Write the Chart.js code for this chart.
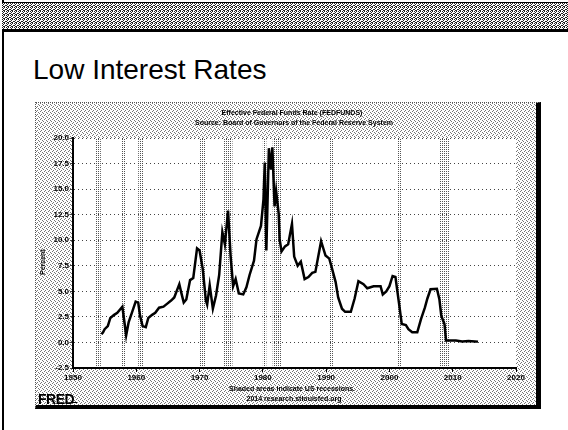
<!DOCTYPE html>
<html>
<head>
<meta charset="utf-8">
<script src="https://cdn.jsdelivr.net/npm/chart.js@4"></script>
<style>
    html, body { margin: 0; padding: 0; background: #fff; }
    #slide { position: relative; width: 568px; height: 430px; overflow: hidden; background: #fff; font-family: "Liberation Sans", Arial, sans-serif; }
    /* bordo sinistro e fascia retinata in alto */
    #bordoSx { position: absolute; left: 2px; top: 0; width: 2px; height: 430px; background: #000; }
    #fascia {
        position: absolute; left: 2px; top: 2px; width: 566px; height: 26px;
        background: #999;
        border-top: 1px solid #000; border-bottom: 3px solid #000;
    }
    #titolo { position: absolute; left: 33px; top: 56px; margin: 0; font-size: 28px; line-height: 28px; font-weight: normal; color: #000; }
    /* riquadro FRED */
    #fredBox {
        position: absolute; left: 35px; top: 102px; width: 506px; height: 307px; box-sizing: border-box;
        border-top: 1px dotted #555; border-left: 1px dotted #555;
        border-right: 5px solid #000; border-bottom: 4px solid #000;
    }
    #fredBox canvas { position: absolute; left: 0; top: 0; }
    .txt { position: absolute; font-weight: bold; color: #000; white-space: nowrap; transform: translate(-50%, -50%); }
    .piccolo { font-size: 7px; line-height: 8px; }
    #logo { position: absolute; left: 38px; top: 392px; font-size: 14px; line-height: 14px; font-weight: bold; letter-spacing: -0.5px; color: #000; }
    #icona { position: absolute; left: 72px; top: 398px; width: 4px; height: 4px; border-left: 1px solid #000; border-bottom: 1px solid #000; }
</style>
</head>
<body>
<div id="slide">
    <div id="bordoSx"></div>
    <div id="fascia"></div>
    <h1 id="titolo">Low Interest Rates</h1>
    <div id="fredBox"><canvas id="chartFed" width="500" height="302"></canvas></div>
    <div class="txt piccolo" style="left:292px; top:113px;">Effective Federal Funds Rate (FEDFUNDS)</div>
    <div class="txt piccolo" style="left:294px; top:123px;">Source: Board of Governors of the Federal Reserve System</div>
    <div class="txt piccolo" style="left:43px; top:262px; transform: translate(-50%, -50%) rotate(-90deg);">Percent</div>
    <div class="txt piccolo" style="left:292px; top:389px;">Shaded areas indicate US recessions.</div>
    <div class="txt piccolo" style="left:294px; top:399px;">2014 research.stlouisfed.org</div>
    <div id="logo">FRED</div>
    <div id="icona"></div>
</div>

<script>
/* ============================================
   DATI
   ============================================ */
// Anni (decimali) e tasso effettivo dei Fed Funds, in percentuale
const rateYears = [
    1954.50, 1954.75, 1955.00, 1955.50, 1955.90, 1956.50, 1957.00, 1957.80, 1958.10, 1958.40,
    1958.80, 1959.30, 1959.90, 1960.30, 1960.60, 1961.00, 1961.50, 1961.90, 1962.50, 1963.00,
    1963.60, 1964.30, 1964.90, 1965.50, 1966.00, 1966.80, 1967.10, 1967.50, 1967.90, 1968.50,
    1969.00, 1969.60, 1970.00, 1970.50, 1971.00, 1971.20, 1971.60, 1972.10, 1972.60, 1973.10,
    1973.60, 1974.00, 1974.50, 1974.90, 1975.30, 1975.70, 1976.20, 1976.90, 1977.40, 1977.90,
    1978.60, 1979.00, 1979.70, 1980.10, 1980.30, 1980.55, 1980.95, 1981.30, 1981.50, 1981.85,
    1982.10, 1982.50, 1982.65, 1982.95, 1983.50, 1984.00, 1984.60, 1984.95, 1985.50, 1986.00,
    1986.60, 1987.20, 1987.80, 1988.30, 1989.20, 1989.90, 1990.50, 1990.90, 1991.50, 1991.90,
    1992.50, 1993.00, 1993.90, 1994.50, 1995.10, 1995.90, 1996.50, 1997.50, 1998.60, 1998.95,
    1999.50, 2000.00, 2000.50, 2000.95, 2001.50, 2001.95, 2002.60, 2003.00, 2003.60, 2004.40,
    2005.00, 2005.60, 2006.00, 2006.50, 2007.50, 2007.90, 2008.20, 2008.70, 2008.95, 2009.50,
    2010.50, 2011.50, 2012.50, 2013.50, 2014.00
];
const rateValues = [
    0.80, 1.00, 1.30, 1.60, 2.40, 2.70, 2.90, 3.50, 2.10, 0.70,
    2.00, 2.90, 4.00, 3.90, 2.60, 1.60, 1.50, 2.40, 2.70, 2.90,
    3.40, 3.50, 3.80, 4.10, 4.40, 5.70, 4.90, 3.90, 4.20, 6.10,
    6.30, 9.20, 9.00, 7.20, 4.10, 3.70, 5.60, 3.30, 4.60, 6.60,
    10.80, 9.60, 12.90, 8.50, 5.50, 6.20, 4.80, 4.70, 5.40, 6.60,
    8.00, 10.10, 11.40, 14.00, 17.60, 9.00, 19.00, 16.90, 19.10, 13.30,
    14.80, 12.60, 10.10, 8.90, 9.40, 9.60, 11.60, 8.40, 7.50, 7.90,
    6.20, 6.40, 6.80, 6.90, 9.90, 8.50, 8.20, 7.30, 5.90, 4.40,
    3.30, 3.00, 3.00, 4.30, 6.00, 5.70, 5.30, 5.50, 5.50, 4.70,
    5.00, 5.50, 6.50, 6.40, 3.90, 1.80, 1.70, 1.30, 1.00, 1.00,
    2.30, 3.40, 4.30, 5.20, 5.25, 4.20, 2.60, 1.80, 0.20, 0.20,
    0.18, 0.10, 0.15, 0.10, 0.08
];

// Recessioni USA (inizio / fine, anni decimali)
const recessionStart = [1953.55, 1957.60, 1960.30, 1969.95, 1973.85, 1980.00, 1981.55, 1990.55, 2001.20, 2007.95];
const recessionEnd   = [1954.40, 1958.30, 1961.10, 1970.90, 1975.20, 1980.55, 1982.90, 1991.20, 2001.90, 2009.50];

// Etichette degli assi
const xTickValues = [1950, 1960, 1970, 1980, 1990, 2000, 2010, 2020];
const yTickValues = [-2.5, 0, 2.5, 5, 7.5, 10, 12.5, 15, 17.5, 20];

/* ============================================
   RETINATURE (effetto scansione)
   ============================================ */
function makeTile(size, dots, color) {
    const c = document.createElement('canvas');
    c.width = size; c.height = size;
    const p = c.getContext('2d');
    p.fillStyle = '#fff';
    p.fillRect(0, 0, size, size);
    p.fillStyle = color;
    dots.forEach(d => p.fillRect(d[0], d[1], 1, 1));
    return c;
}

// Fascia in alto: retino piu' fitto
const tileFascia = makeTile(4, [[0, 0], [2, 0], [1, 1], [3, 2], [0, 2], [2, 3], [1, 3]], '#222');
document.getElementById('fascia').style.background = 'url(' + tileFascia.toDataURL() + ')';

// Plugin: sfondo retinato, area bianca, bande di recessione
const fredBackground = {
    id: 'fredBackground',
    beforeDraw(chart) {
        const { ctx, chartArea, scales } = chart;
        ctx.save();
        ctx.fillStyle = ctx.createPattern(makeTile(4, [[0, 0], [2, 1], [1, 3], [3, 2]], '#777'), 'repeat');
        ctx.fillRect(0, 0, chart.width, chart.height);
        ctx.fillStyle = '#fff';
        ctx.fillRect(chartArea.left, chartArea.top, chartArea.right - chartArea.left, chartArea.bottom - chartArea.top);
        ctx.fillStyle = ctx.createPattern(makeTile(2, [[0, 0]], '#555'), 'repeat');
        recessionStart.forEach((s, i) => {
            const x1 = scales.x.getPixelForValue(s);
            const x2 = scales.x.getPixelForValue(recessionEnd[i]);
            ctx.fillRect(x1, chartArea.top, Math.max(x2 - x1, 2), chartArea.bottom - chartArea.top);
        });
        ctx.restore();
    }
};

/* ============================================
   GRAFICO
   ============================================ */
const tickFont = { family: '"Liberation Sans", Arial, sans-serif', size: 8, weight: 'bold' };

new Chart(document.getElementById('chartFed'), {
    type: 'line',
    data: {
        datasets: [{
            data: rateYears.map((x, i) => ({ x: x, y: rateValues[i] })),
            borderColor: '#000',
            borderWidth: 2.5,
            pointRadius: 0,
            tension: 0,
            fill: false
        }]
    },
    options: {
        responsive: false,
        animation: false,
        layout: { padding: { left: 0, top: 35, right: 20, bottom: 0 } },
        plugins: {
            legend: { display: false },
            title: { display: false },
            tooltip: { enabled: false }
        },
        scales: {
            x: {
                type: 'linear',
                min: 1950,
                max: 2020,
                afterBuildTicks: axis => { axis.ticks = xTickValues.map(v => ({ value: v })); },
                afterFit: axis => { axis.height = 37; },
                ticks: { color: '#000', font: tickFont, padding: 1, maxRotation: 0, callback: v => String(v) },
                grid: { drawOnChartArea: false, color: '#000', tickLength: 4 },
                border: { color: '#000', width: 2 }
            },
            y: {
                min: -2.5,
                max: 20,
                afterBuildTicks: axis => { axis.ticks = yTickValues.map(v => ({ value: v })); },
                afterFit: axis => { axis.width = 37; },
                ticks: { color: '#000', font: tickFont, padding: 1, callback: v => v.toFixed(1) },
                grid: { color: '#444', lineWidth: 1, tickLength: 3 },
                border: { color: '#000', width: 2, dash: [1, 3] }
            }
        }
    },
    plugins: [fredBackground]
});
</script>
</body>
</html>
